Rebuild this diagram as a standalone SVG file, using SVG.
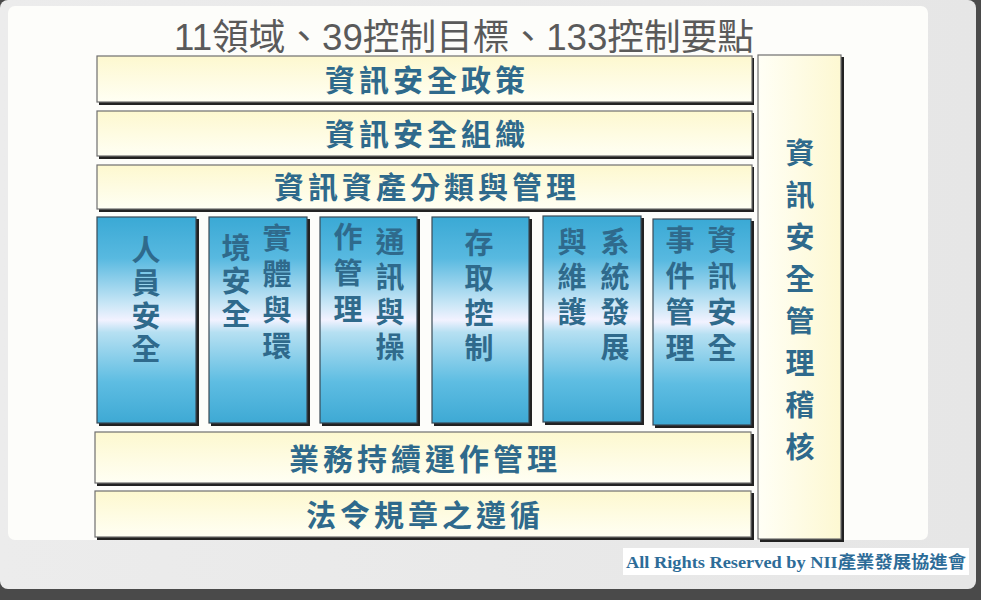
<svg xmlns="http://www.w3.org/2000/svg" width="981" height="600" viewBox="0 0 981 600">
<defs>
<linearGradient id="cream" x1="0" y1="0" x2="0" y2="1">
<stop offset="0" stop-color="#fdf8cf"/>
<stop offset="1" stop-color="#fffff4"/>
</linearGradient>
<linearGradient id="creamV" x1="0" y1="0" x2="1" y2="0">
<stop offset="0" stop-color="#fffff6"/>
<stop offset="1" stop-color="#fdf8d2"/>
</linearGradient>
<linearGradient id="blue" x1="0" y1="0" x2="0" y2="1">
<stop offset="0" stop-color="#3aa9d5"/>
<stop offset="0.2" stop-color="#58b9e0"/>
<stop offset="0.42" stop-color="#c8e6f6"/>
<stop offset="0.5" stop-color="#f2f2ff"/>
<stop offset="0.56" stop-color="#b6e0f2"/>
<stop offset="0.8" stop-color="#5ebde2"/>
<stop offset="1" stop-color="#3ea9d4"/>
</linearGradient>
<linearGradient id="bg" x1="0" y1="0" x2="1" y2="0">
<stop offset="0" stop-color="#ececec"/>
<stop offset="1" stop-color="#e6e6e6"/>
</linearGradient>
</defs>
<style>
.shadow{fill:#222;}
.yb{fill:url(#cream);stroke:#6f6f6f;stroke-width:1.2;}
.bb{fill:url(#blue);stroke:#3a4a55;stroke-width:1.2;}
.lbl{font-family:"Noto Sans CJK TC","Noto Sans CJK SC",sans-serif;font-weight:700;fill:#2f6a8c;}
.h{font-size:30px;letter-spacing:4px;text-anchor:middle;}
.v{font-size:29px;writing-mode:vertical-rl;text-anchor:start;}
</style>
<!-- page background -->
<rect x="0" y="0" width="981" height="600" fill="#4a4a4a"/>
<rect x="0" y="0" width="976" height="589" rx="8" fill="url(#bg)"/>
<rect x="8" y="6" width="920" height="534" rx="7" fill="#fdfdfa"/>
<!-- title -->
<text x="464" y="50" font-family="'Liberation Sans','Noto Sans CJK TC',sans-serif" font-size="36" fill="#5a5a5a" text-anchor="middle" textLength="580" lengthAdjust="spacingAndGlyphs">11領域、39控制目標、133控制要點</text>

<g id="policy">
<rect class="shadow" x="99" y="58" width="655" height="47"/>
<rect class="yb" x="97" y="56" width="655" height="46"/>
<text class="lbl h" x="427" y="91">資訊安全政策</text>
</g>
<g id="organization">
<rect class="shadow" x="99" y="113" width="655" height="46"/>
<rect class="yb" x="97" y="111" width="655" height="45"/>
<text class="lbl h" x="427" y="145">資訊安全組織</text>
</g>
<g id="asset">
<rect class="shadow" x="99" y="167" width="655" height="45"/>
<rect class="yb" x="97" y="165" width="655" height="44"/>
<text class="lbl h" x="427" y="198">資訊資產分類與管理</text>
</g>

<g id="hr">
<rect class="shadow" x="99" y="219" width="100" height="207"/>
<rect class="bb" x="97" y="217" width="99" height="206"/>
<text class="lbl v" x="146" y="235" style="letter-spacing:4px">人員安全</text>
</g>
<g id="physical">
<rect class="shadow" x="211" y="219" width="99" height="207"/>
<rect class="bb" x="209" y="217" width="98" height="206"/>
<text class="lbl v" x="277" y="223" style="letter-spacing:7px">實體與環</text>
<text class="lbl v" x="236" y="233" style="letter-spacing:4px">境安全</text>
</g>
<g id="comms">
<rect class="shadow" x="322" y="219" width="98" height="207"/>
<rect class="bb" x="320" y="217" width="97" height="206"/>
<text class="lbl v" x="390" y="227" style="letter-spacing:6px">通訊與操</text>
<text class="lbl v" x="348" y="222" style="letter-spacing:7px">作管理</text>
</g>
<g id="access">
<rect class="shadow" x="434" y="219" width="98" height="207"/>
<rect class="bb" x="432" y="217" width="97" height="206"/>
<text class="lbl v" x="479" y="228" style="letter-spacing:6px">存取控制</text>
</g>
<g id="sysdev">
<rect class="shadow" x="545" y="218" width="99" height="207"/>
<rect class="bb" x="543" y="216" width="98" height="206"/>
<text class="lbl v" x="615" y="227" style="letter-spacing:6px">系統發展</text>
<text class="lbl v" x="572" y="227" style="letter-spacing:6px">與維護</text>
</g>
<g id="incident">
<rect class="shadow" x="655" y="221" width="99" height="207"/>
<rect class="bb" x="653" y="219" width="98" height="206"/>
<text class="lbl v" x="722" y="225" style="letter-spacing:7px">資訊安全</text>
<text class="lbl v" x="680" y="225" style="letter-spacing:7px">事件管理</text>
</g>

<g id="continuity">
<rect class="shadow" x="97" y="434" width="657" height="52"/>
<rect class="yb" x="95" y="432" width="656" height="51"/>
<text class="lbl h" x="425" y="470">業務持續運作管理</text>
</g>
<g id="compliance">
<rect class="shadow" x="97" y="493" width="657" height="47"/>
<rect class="yb" x="95" y="491" width="656" height="46"/>
<text class="lbl h" x="425" y="526">法令規章之遵循</text>
</g>

<g id="audit">
<rect class="shadow" x="760" y="57" width="84" height="485"/>
<rect x="758" y="55" width="83" height="484" fill="url(#creamV)" stroke="#6f6f6f" stroke-width="1.2"/>
<text class="lbl v" x="800" y="138" style="letter-spacing:13px">資訊安全管理稽核</text>
</g>

<g id="copyright">
<rect x="623" y="548" width="346" height="27" fill="#ffffff"/>
<text x="626" y="568" font-family="'Liberation Serif','Noto Sans CJK TC',serif" font-weight="700" font-size="17" fill="#2d6c98" textLength="340" lengthAdjust="spacingAndGlyphs">All Rights Reserved by NII產業發展協進會</text>
</g>
<g id="connectors"></g>
</svg>
